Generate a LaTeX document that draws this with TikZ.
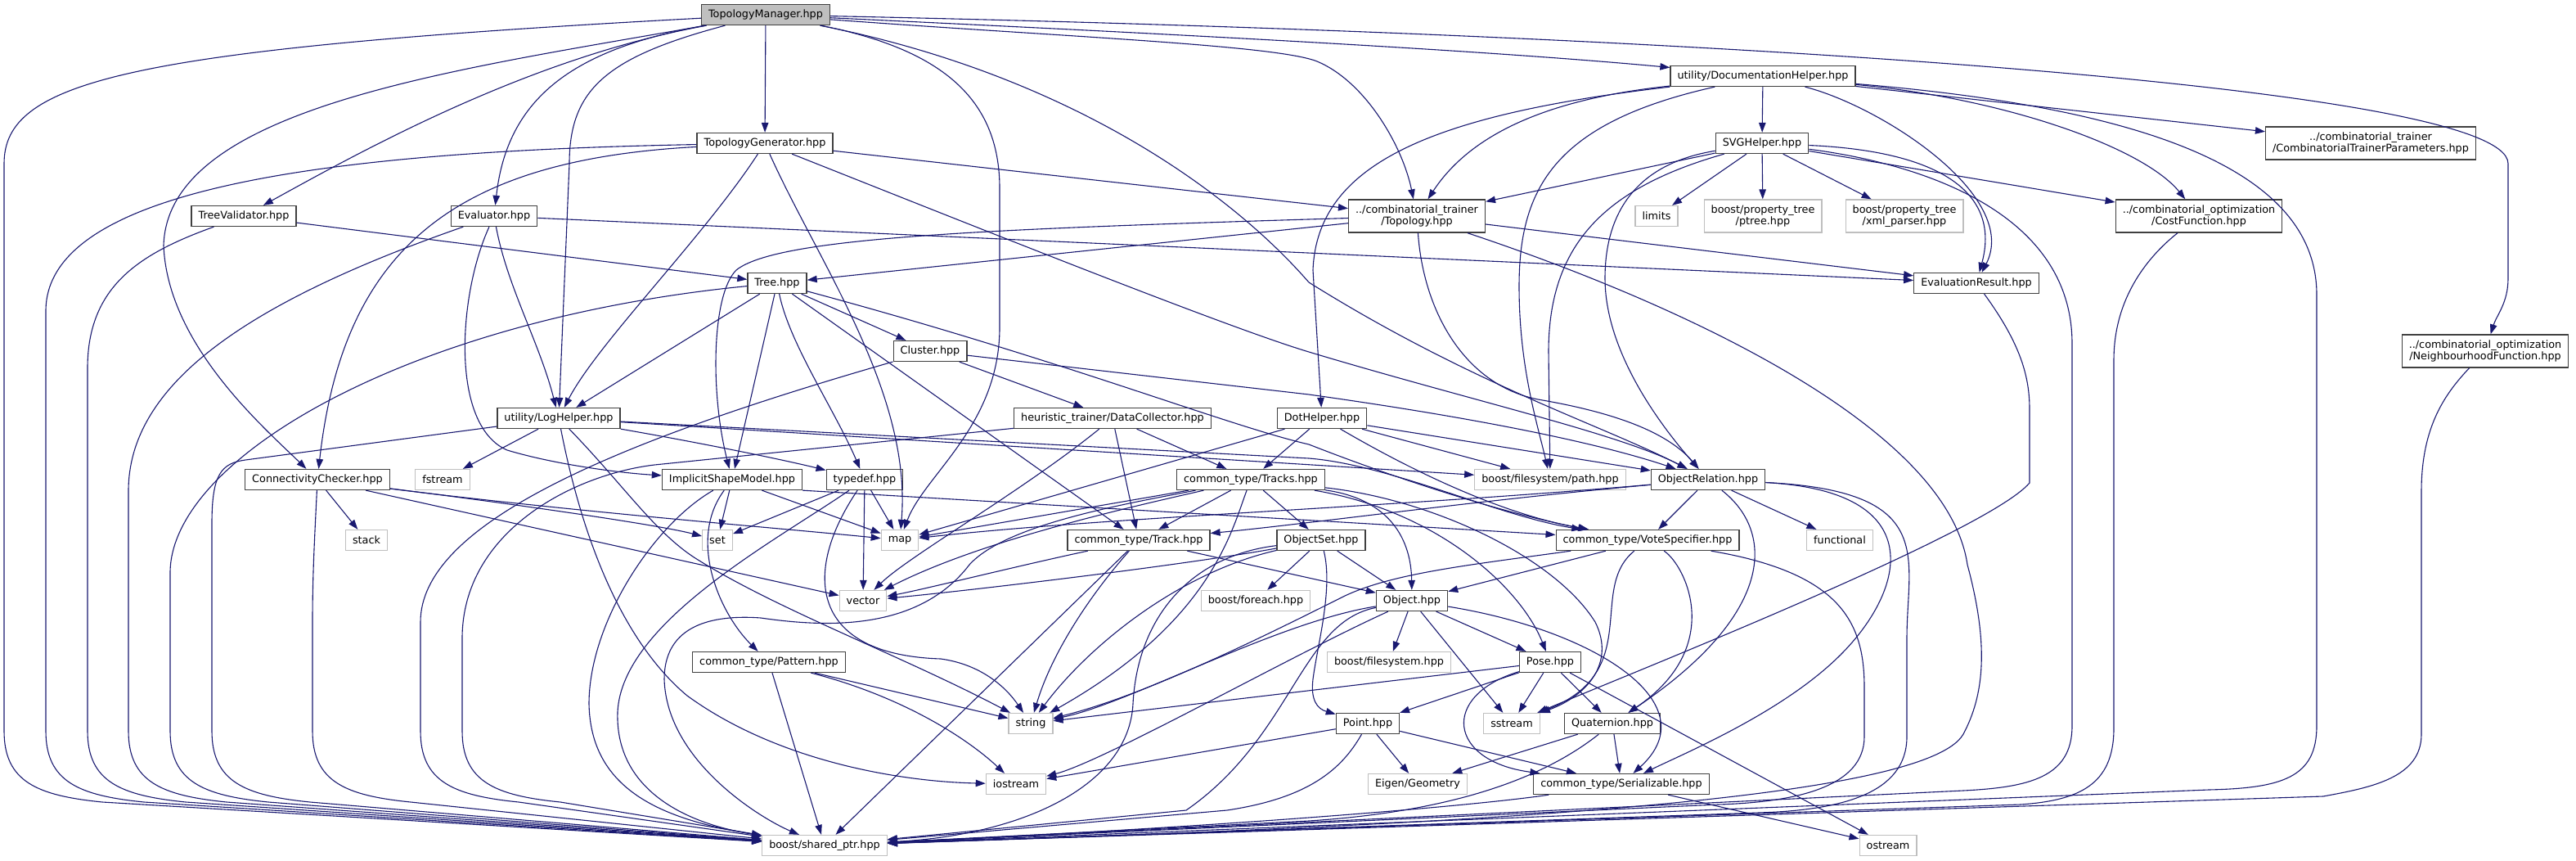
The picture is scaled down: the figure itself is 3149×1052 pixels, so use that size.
\documentclass[tikz,border=0pt]{standalone}
\usepackage{fontspec}
\setmainfont{DejaVu Sans}
\usetikzlibrary{arrows.meta}
\definecolor{edgeblue}{HTML}{191970}
\definecolor{sysgray}{HTML}{BFBFBF}
\definecolor{boxdark}{HTML}{404040}

\begin{document}
\begin{tikzpicture}[x=1pt, y=-1pt,
  hdrfile/.style={draw=boxdark, line width=1.3pt, fill=white, inner xsep=8.5pt, inner ysep=0pt, minimum height=25pt, align=center, font=\fontsize{12.8}{14}\selectfont},
  twoline/.style={minimum height=40pt},
  sysfile/.style={draw=sysgray},
  mainfile/.style={fill=sysgray},
  inc/.style={draw=edgeblue, line width=1.1pt, -{Triangle[length=12pt,width=8.5pt]}}]

\useasboundingbox (0,0) rectangle (3149,1052);

  \begin{scope}[every node/.style={hdrfile}]
\node[mainfile](tm) at (936,18) {TopologyManager.hpp};
\node(tg) at (935,175) {TopologyGenerator.hpp};
\node(tv) at (298,264) {TreeValidator.hpp};
\node(ev) at (604,264) {Evaluator.hpp};
\node(dh) at (2155,93) {utility/DocumentationHelper.hpp};
\node(svg) at (2154,175) {SVGHelper.hpp};
\node[twoline](topo) at (1732,264) {../combinatorial\_trainer\\/Topology.hpp};
\node[sysfile](lim) at (2025,264) {limits};
\node[sysfile,twoline](ptree) at (2155,264) {boost/property\_tree\\/ptree.hpp};
\node[sysfile,twoline](xmlp) at (2328,264) {boost/property\_tree\\/xml\_parser.hpp};
\node[twoline](ctp) at (2898,175) {../combinatorial\_trainer\\/CombinatorialTrainerParameters.hpp};
\node[twoline](cf) at (2688,264) {../combinatorial\_optimization\\/CostFunction.hpp};
\node[twoline](nf) at (3038,429) {../combinatorial\_optimization\\/NeighbourhoodFunction.hpp};
\node(tree) at (950,346) {Tree.hpp};
\node(er) at (2416,346) {EvaluationResult.hpp};
\node(cl) at (1137,429) {Cluster.hpp};
\node(lh) at (683,511) {utility/LogHelper.hpp};
\node(dc) at (1360,511) {heuristic\_trainer/DataCollector.hpp};
\node(dot) at (1616,511) {DotHelper.hpp};
\node(cc) at (388,586) {ConnectivityChecker.hpp};
\node[sysfile](fs) at (541,586) {fstream};
\node(ism) at (895,586) {ImplicitShapeModel.hpp};
\node(td) at (1057,586) {typedef.hpp};
\node(trs) at (1529,586) {common\_type/Tracks.hpp};
\node[sysfile](bfp) at (1895,586) {boost/filesystem/path.hpp};
\node(objrel) at (2088,586) {ObjectRelation.hpp};
\node[sysfile](stk) at (448,660) {stack};
\node[sysfile](set) at (877,660) {set};
\node[sysfile](map) at (1100,660) {map};
\node(trk) at (1392,660) {common\_type/Track.hpp};
\node(os) at (1615,660) {ObjectSet.hpp};
\node(vs) at (2014,660) {common\_type/VoteSpecifier.hpp};
\node[sysfile](fn) at (2249,660) {functional};
\node[sysfile](vec) at (1055,734) {vector};
\node[sysfile](bfe) at (1535,734) {boost/foreach.hpp};
\node(obj) at (1726,734) {Object.hpp};
\node(pat) at (940,809) {common\_type/Pattern.hpp};
\node[sysfile](bfs) at (1698,809) {boost/filesystem.hpp};
\node(pose) at (1895,809) {Pose.hpp};
\node(pnt) at (1672,884) {Point.hpp};
\node[sysfile](ss) at (1848,884) {sstream};
\node(qu) at (1971,884) {Quaternion.hpp};
\node[sysfile](str) at (1260,884) {string};
\node[sysfile](io) at (1242,958) {iostream};
\node[sysfile](eg) at (1733,958) {Eigen/Geometry};
\node(ser) at (1982,958) {common\_type/Serializable.hpp};
\node[sysfile](sp) at (1008,1033) {boost/shared\_ptr.hpp};
\node[sysfile](ost) at (2308,1033) {ostream};
\end{scope}

\draw[inc] (tm) .. controls (150,60) and (5,100) .. (5,200) -- (5,893) .. controls (5,955) and (45,972) .. (125,980) -- (sp);
\draw[inc] (tm) .. controls (560,85) and (205,130) .. (200,300) .. controls (205,420) and (320,520) .. (cc);
\draw[inc] (tm) .. controls (650,70) and (450,180) .. (tv);
\draw[inc] (tm) .. controls (700,60) and (620,120) .. (ev);
\draw[inc] (tm) .. controls (740,70) and (696,110) .. (696,200) -- (lh);
\draw[inc] (tm) -- (tg);
\draw[inc] (tm) .. controls (1150,60) and (1222,120) .. (1222,230) -- (1222,400) .. controls (1222,520) and (1130,580) .. (map);
\draw[inc] (tm) .. controls (1300,90) and (1500,230) .. (1600,345) .. controls (1800,470) and (1960,520) .. (objrel);
\draw[inc] (tm) .. controls (1300,45) and (1560,55) .. (1610,75) .. controls (1670,100) and (1715,180) .. (topo);
\draw[inc] (tm) .. controls (1400,40) and (1800,60) .. (dh);
\draw[inc] (tm) .. controls (2000,40) and (3066,100) .. (3066,200) -- (3066,340) .. controls (3066,370) and (3052,385) .. (nf);

\draw[inc] (tg) .. controls (400,185) and (56,230) .. (56,380) -- (56,893) .. controls (56,955) and (96,972) .. (176,980) -- (sp);
\draw[inc] (tg) .. controls (560,195) and (420,300) .. (cc);
\draw[inc] (tg) .. controls (860,290) and (730,420) .. (lh);
\draw[inc] (tg) .. controls (1000,320) and (1115,480) .. (map);
\draw[inc] (tg) -- (topo);
\draw[inc] (tg) .. controls (1200,280) and (1500,400) .. (1600,430) .. controls (1800,490) and (1980,530) .. (objrel);

\draw[inc] (tv) -- (tree);
\draw[inc] (tv) .. controls (170,310) and (107,350) .. (107,450) -- (107,893) .. controls (107,955) and (147,972) .. (227,980) -- (sp);

\draw[inc] (ev) -- (er);
\draw[inc] (ev) .. controls (300,370) and (157,470) .. (157,600) -- (157,893) .. controls (157,955) and (197,972) .. (277,980) -- (sp);
\draw[inc] (ev) .. controls (620,350) and (660,420) .. (lh);
\draw[inc] (ev) .. controls (560,360) and (550,520) .. (620,550) .. controls (680,568) and (760,578) .. (ism);

\draw[inc] (tree) .. controls (500,390) and (208,560) .. (208,700) -- (208,893) .. controls (208,955) and (248,972) .. (328,980) -- (sp);
\draw[inc] (tree) -- (lh);
\draw[inc] (tree) -- (ism);
\draw[inc] (tree) .. controls (965,420) and (1020,500) .. (td);
\draw[inc] (tree) -- (cl);
\draw[inc] (tree) -- (trk);
\draw[inc] (tree) .. controls (1300,440) and (1500,520) .. (1600,543) .. controls (1720,590) and (1850,630) .. (vs);

\draw[inc] (cl) -- (dc);
\draw[inc] (cl) -- (1600,482) .. controls (1800,510) and (1950,540) .. (objrel);
\draw[inc] (cl) .. controls (750,540) and (514,640) .. (514,760) -- (514,893) .. controls (514,955) and (554,972) .. (634,980) -- (sp);

\draw[inc] (dc) -- (trs);
\draw[inc] (dc) -- (trk);
\draw[inc] (dc) .. controls (1250,600) and (1110,680) .. (vec);
\draw[inc] (dc) -- (800,568) .. controls (700,580) and (565,650) .. (565,780) -- (565,893) .. controls (565,955) and (605,972) .. (685,980) -- (sp);

\draw[inc] (lh) -- (300,562) .. controls (270,566) and (259,580) .. (259,640) -- (259,893) .. controls (259,955) and (299,972) .. (379,980) -- (sp);
\draw[inc] (lh) -- (fs);
\draw[inc] (lh) .. controls (850,540) and (950,560) .. (td);
\draw[inc] (lh) -- (bfp);
\draw[inc] (lh) -- (1600,560) .. controls (1700,568) and (1830,630) .. (vs);
\draw[inc] (lh) .. controls (760,590) and (800,650) .. (850,682) .. controls (950,745) and (1100,800) .. (str);
\draw[inc] (lh) .. controls (720,700) and (780,800) .. (840,850) .. controls (950,930) and (1100,955) .. (io);

\draw[inc] (cc) -- (stk);
\draw[inc] (cc) .. controls (600,612) and (800,640) .. (set);
\draw[inc] (cc) .. controls (700,625) and (950,645) .. (map);
\draw[inc] (cc) -- (vec);
\draw[inc] (cc) .. controls (385,650) and (382,700) .. (382,760) -- (382,893) .. controls (382,955) and (422,972) .. (502,980) -- (sp);

\draw[inc] (ism) -- (set);
\draw[inc] (ism) -- (map);
\draw[inc] (ism.south east) -- (vs);
\draw[inc] (ism) .. controls (840,660) and (880,750) .. (pat);
\draw[inc] (ism) .. controls (800,640) and (720,760) .. (720,860) .. controls (722,960) and (800,1000) .. (sp);

\draw[inc] (td) -- (set);
\draw[inc] (td) -- (map);
\draw[inc] (td) -- (vec);
\draw[inc] (td) .. controls (980,700) and (990,800) .. (1150,805) .. controls (1200,812) and (1230,840) .. (str);
\draw[inc] (td) .. controls (950,660) and (760,760) .. (755,870) .. controls (752,960) and (830,1005) .. (sp);

\draw[inc] (trs) -- (map);
\draw[inc] (trs) -- (trk);
\draw[inc] (trs) .. controls (1380,620) and (1200,660) .. (vec);
\draw[inc] (trs) -- (os);
\draw[inc] (trs) .. controls (1700,610) and (1725,660) .. (obj);
\draw[inc] (trs) .. controls (1760,625) and (1860,720) .. (pose);
\draw[inc] (trs) .. controls (1750,610) and (1900,680) .. (1950,760) .. controls (1975,810) and (1940,850) .. (ss);
\draw[inc] (trs) .. controls (1505,650) and (1480,760) .. (str);
\draw[inc] (trs) .. controls (1380,615) and (1230,640) .. (1185,690) .. controls (1120,775) and (1000,765) .. (930,755) .. controls (860,750) and (812,770) .. (812,830) .. controls (815,930) and (930,1000) .. (sp);

\draw[inc] (trk) .. controls (1250,690) and (1130,720) .. (vec);
\draw[inc] (trk) -- (obj);
\draw[inc] (trk) .. controls (1330,730) and (1285,800) .. (str);
\draw[inc] (trk) -- (sp);

\draw[inc] (os) .. controls (1450,690) and (1200,720) .. (vec);
\draw[inc] (os) -- (bfe);
\draw[inc] (os) -- (obj);
\draw[inc] (os) .. controls (1440,700) and (1330,790) .. (str);
\draw[inc] (os) .. controls (1630,720) and (1610,790) .. (1605,830) .. controls (1602,855) and (1610,866) .. (pnt);
\draw[inc] (os) .. controls (1450,680) and (1390,760) .. (1385,860) .. controls (1380,960) and (1250,1020) .. (sp);

\draw[inc] (objrel) -- (vs);
\draw[inc] (objrel) -- (fn);
\draw[inc] (objrel) .. controls (1700,620) and (1350,632) .. (map);
\draw[inc] (objrel) .. controls (1800,612) and (1600,640) .. (trk);
\draw[inc] (objrel) .. controls (2170,650) and (2170,750) .. (qu);
\draw[inc] (objrel) .. controls (2360,600) and (2330,720) .. (2250,800) .. controls (2180,870) and (2060,920) .. (ser);
\draw[inc] (objrel) .. controls (2370,600) and (2331,680) .. (2331,780) -- (2331,900) .. controls (2331,970) and (2250,990) .. (2150,993) -- (sp);

\draw[inc] (vs) -- (obj);
\draw[inc] (vs) .. controls (2060,690) and (2110,790) .. (qu);
\draw[inc] (vs) .. controls (1940,720) and (2010,820) .. (ss);
\draw[inc] (vs) .. controls (1800,690) and (1700,700) .. (1640,730) .. controls (1550,775) and (1400,850) .. (str);
\draw[inc] (vs) .. controls (2250,700) and (2279,760) .. (2279,840) -- (2279,900) .. controls (2279,960) and (2200,980) .. (2100,983) -- (sp);

\draw[inc] (obj) -- (bfs);
\draw[inc] (obj) -- (pose);
\draw[inc] (obj) -- (ss);
\draw[inc] (obj) .. controls (1950,770) and (2090,860) .. (ser);
\draw[inc] (obj) .. controls (1560,760) and (1380,860) .. (str);
\draw[inc] (obj) .. controls (1580,800) and (1350,930) .. (io);
\draw[inc] (obj) .. controls (1590,760) and (1580,900) .. (1450,990) -- (sp);

\draw[inc] (pose) -- (pnt);
\draw[inc] (pose) -- (ss);
\draw[inc] (pose) -- (qu);
\draw[inc] (pose) -- (str);
\draw[inc] (pose) .. controls (1760,850) and (1770,930) .. (ser);
\draw[inc] (pose) -- (ost);

\draw[inc] (pnt) -- (eg);
\draw[inc] (pnt) -- (ser);
\draw[inc] (pnt) -- (io);
\draw[inc] (pnt) .. controls (1640,940) and (1600,975) .. (1500,990) -- (sp);

\draw[inc] (qu) -- (eg);
\draw[inc] (qu) -- (ser);
\draw[inc] (qu) .. controls (1900,940) and (1800,990) .. (1600,1003) -- (sp);

\draw[inc] (ser) -- (ost);
\draw[inc] (ser) .. controls (1800,985) and (1500,1010) .. (sp);

\draw[inc] (pat) -- (str);
\draw[inc] (pat) .. controls (1100,850) and (1180,900) .. (io);
\draw[inc] (pat) -- (sp);

\draw[inc] (er) .. controls (2470,420) and (2481,460) .. (2481,500) -- (2481,590) .. controls (2430,650) and (2000,820) .. (ss);

\draw[inc] (dh) -- (svg);
\draw[inc] (dh) .. controls (1900,120) and (1800,160) .. (topo);
\draw[inc] (dh) .. controls (1750,140) and (1610,200) .. (1605,330) -- (dot);
\draw[inc] (dh) .. controls (1900,150) and (1857,230) .. (1857,350) .. controls (1857,450) and (1880,520) .. (bfp);
\draw[inc] (dh) -- (ctp);
\draw[inc] (dh) .. controls (2450,120) and (2620,180) .. (cf);
\draw[inc] (dh) .. controls (2300,130) and (2470,240) .. (er);
\draw[inc] (dh) .. controls (2600,130) and (2832,200) .. (2832,360) -- (2832,887) .. controls (2832,950) and (2790,963) .. (2700,965) -- (sp);

\draw[inc] (svg) -- (lim);
\draw[inc] (svg) -- (ptree);
\draw[inc] (svg) -- (xmlp);
\draw[inc] (svg) -- (topo);
\draw[inc] (svg) .. controls (1960,230) and (1893,300) .. (1893,430) -- (bfp);
\draw[inc] (svg) .. controls (2000,200) and (1962,260) .. (1962,340) .. controls (1962,430) and (2030,520) .. (objrel);
\draw[inc] (svg) -- (cf);
\draw[inc] (svg) .. controls (2380,185) and (2445,240) .. (er);
\draw[inc] (svg) .. controls (2350,200) and (2533,260) .. (2533,420) -- (2533,887) .. controls (2533,950) and (2480,962) .. (2400,966) -- (sp);

\draw[inc] (topo) -- (tree);
\draw[inc] (topo) .. controls (1200,280) and (950,290) .. (900,330) .. controls (870,360) and (868,480) .. (ism);
\draw[inc] (topo) .. controls (1740,380) and (1790,470) .. (1880,488) .. controls (1980,505) and (2040,530) .. (objrel);
\draw[inc] (topo) -- (er);
\draw[inc] (topo) .. controls (2050,370) and (2380,520) .. (2405,690) .. controls (2432,790) and (2425,850) .. (2400,897) .. controls (2350,985) and (1700,1010) .. (sp);

\draw[inc] (dot) -- (trs);
\draw[inc] (dot) -- (map);
\draw[inc] (dot) -- (bfp);
\draw[inc] (dot) -- (objrel);
\draw[inc] (dot) .. controls (1700,560) and (1820,625) .. (vs);

\draw[inc] (cf) .. controls (2630,310) and (2584,360) .. (2584,440) -- (2584,890) .. controls (2584,960) and (2540,978) .. (2470,983) -- (sp);
\draw[inc] (nf) .. controls (2990,480) and (2960,520) .. (2960,600) -- (2960,897) .. controls (2960,950) and (2900,962) .. (2840,973) -- (sp);
\end{tikzpicture}
\end{document}
